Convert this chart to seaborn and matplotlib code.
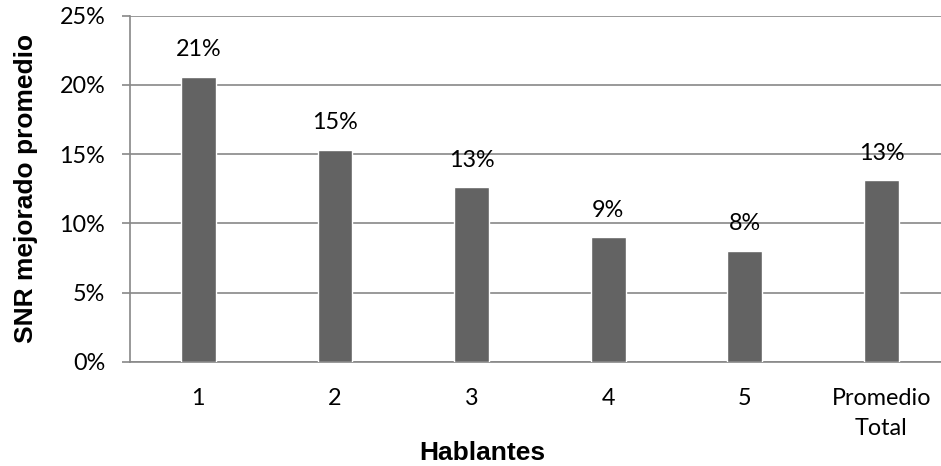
import matplotlib
matplotlib.use("Agg")
import matplotlib.pyplot as plt
import seaborn as sns
import pandas as pd

categories = ["1", "2", "3", "4", "5", "Promedio\nTotal"]
values = [20.6, 15.3, 12.6, 9.0, 8.0, 13.1]
labels = ["21%", "15%", "13%", "9%", "8%", "13%"]
yticks = [0, 5, 10, 15, 20, 25]
ytick_labels = ["0%", "5%", "10%", "15%", "20%", "25%"]

df = pd.DataFrame({"cat": categories, "val": values})

sns.set_theme(style="white")
plt.rcParams["font.family"] = ["Lato", "DejaVu Sans"]

fig = plt.figure(figsize=(9.41, 4.66), dpi=100)
ax = fig.add_axes([130 / 941, 1 - 361.7 / 466, 1 - 130 / 941, (361.7 - 15.7) / 466])

sns.barplot(data=df, x="cat", y="val", color="#636363", width=0.255,
            saturation=1, ax=ax, zorder=3)

FS = 16.8
ax.set_ylim(0, 25)
ax.set_xlim(-0.5, 5.5 - 8.8 / 136.6)
ax.set_yticks(yticks)
ax.set_yticklabels(ytick_labels)
ax.yaxis.grid(True, color="#888888", linewidth=1.2, zorder=0)
ax.set_axisbelow(True)
for s in ["top", "right"]:
    ax.spines[s].set_visible(False)
ax.spines["left"].set_color("#888888")
ax.spines["left"].set_linewidth(1.2)
ax.spines["bottom"].set_color("#888888")
ax.spines["bottom"].set_linewidth(1.2)
ax.tick_params(axis="y", length=5.8, width=1.2, color="#888888", labelsize=FS,
               labelcolor="#000000", pad=12, left=True)
ax.tick_params(axis="x", length=0, labelsize=FS, labelcolor="#000000", pad=19)
for lab in ax.get_xticklabels():
    lab.set_linespacing(1.55)

for i, (v, t) in enumerate(zip(values, labels)):
    ax.annotate(t, xy=(i, v), xytext=(0, 27), textcoords="offset pixels",
                ha="center", va="center", fontsize=FS, color="#000000")

ax.set_ylabel("SNR mejorado promedio", fontsize=19, fontweight="bold",
              family=["Liberation Sans", "DejaVu Sans"], color="#000000")
ax.yaxis.set_label_coords(-(130 - 38) / 811, 0.5)
ax.set_xlabel("Hablantes", fontsize=19, fontweight="bold",
              family=["Liberation Sans", "DejaVu Sans"], color="#000000")
ax.xaxis.set_label_coords((482 - 130) / 811, -(441 - 361.7) / 346)

fig.savefig("out.png", dpi=100)
